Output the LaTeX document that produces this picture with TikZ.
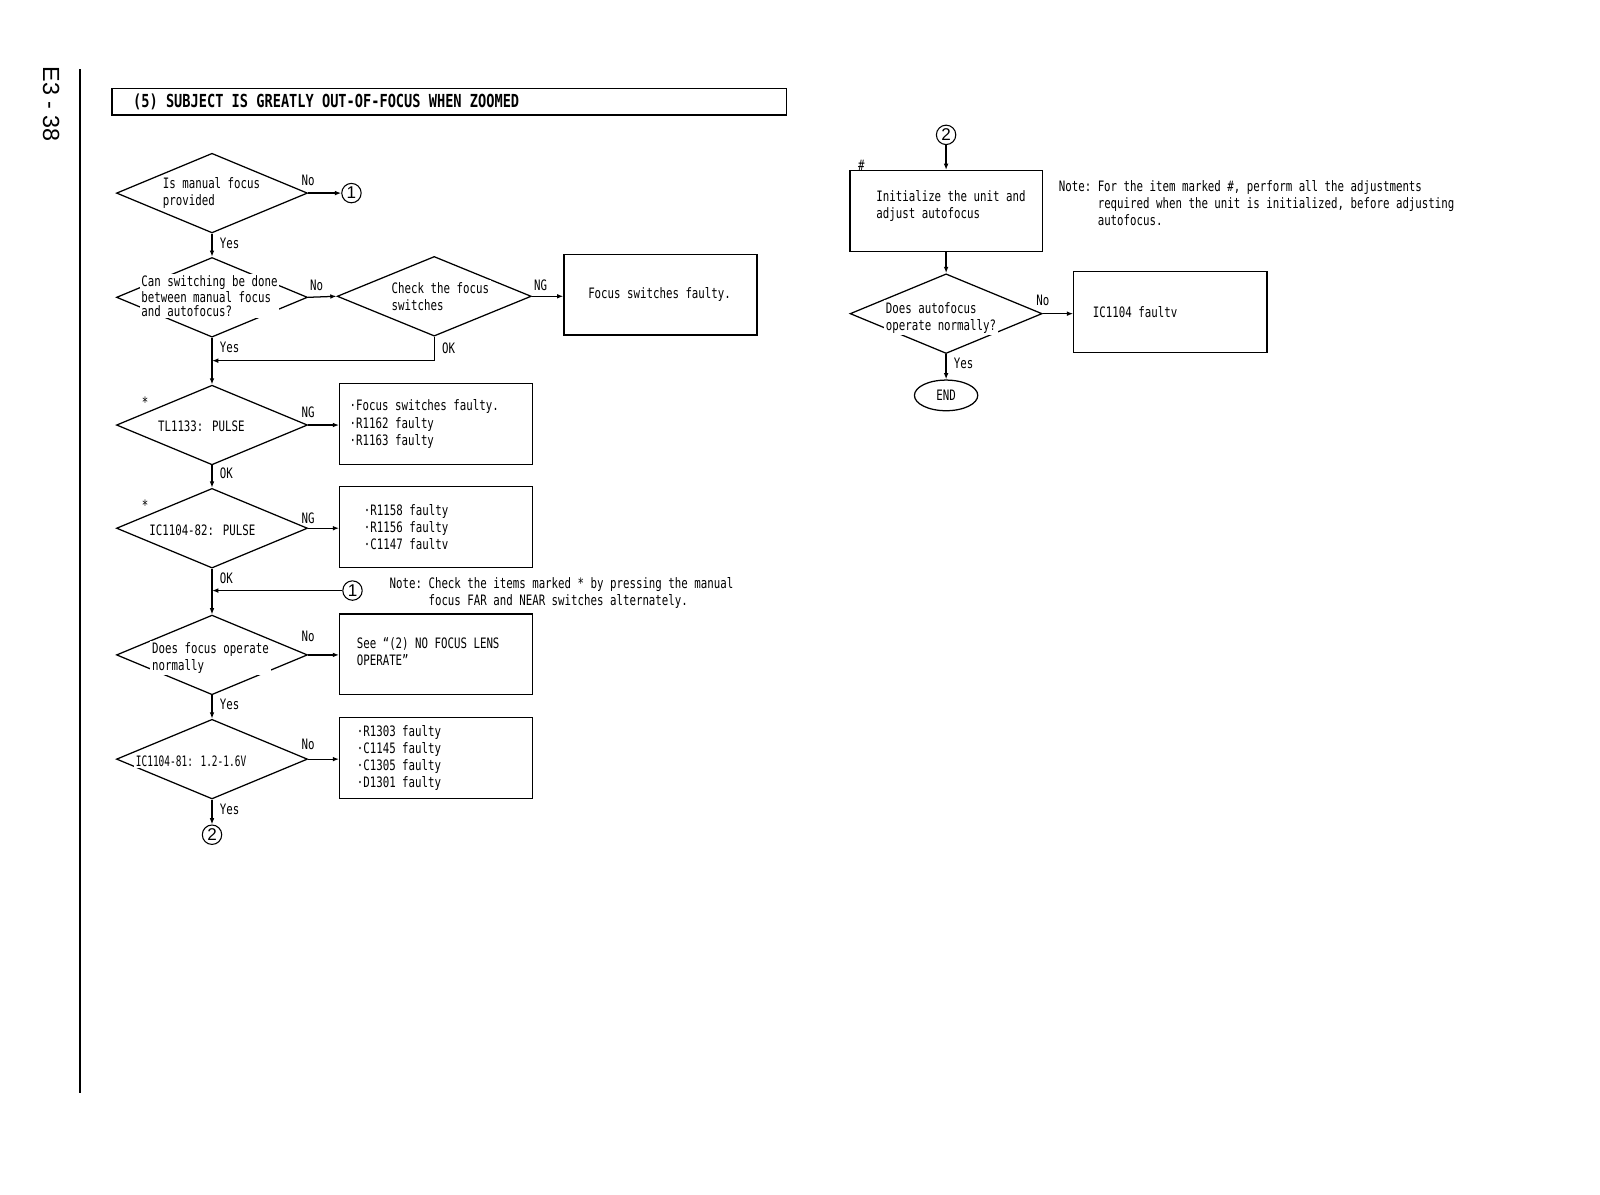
\documentclass[tikz,border=0pt]{standalone}
\usepackage{fontspec}
\setmainfont{Liberation Sans}
\newfontfamily\flowfont[FakeStretch=0.75]{DejaVu Sans Mono}
\newfontfamily\titlefont[FakeStretch=0.76]{DejaVu Sans Mono}
\usetikzlibrary{shapes.geometric, arrows.meta, positioning}

\begin{document}
\begin{tikzpicture}[
  x=0.02cm, y=-0.02cm,
  every node/.style={font=\flowfont\fontsize{8}{9.5}\selectfont},
  decision/.style={draw, diamond, minimum width=3.74cm, minimum height=1.56cm, inner sep=0pt, line width=0.7pt},
  dtext/.style={fill=white, align=left, inner sep=1pt},
  box/.style={draw, rectangle, minimum width=3.78cm, minimum height=1.58cm, inner sep=0pt, line width=0.7pt},
  btext/.style={anchor=west, align=left, inner sep=0pt},
  conn/.style={circle, draw, inner sep=0pt, minimum size=0.38cm, line width=0.6pt, font=\fontsize{9.5}{10}\selectfont},
  lbl/.style={inner sep=1pt},
  arr/.style={-{Latex[length=3.5pt,width=2.6pt]}, line width=0.7pt}
]
\useasboundingbox (0,0) rectangle (1566,1169);

\draw[line width=1.1pt] (78,68) -- (78,1070);
\node[rotate=-90, font=\fontsize{13}{15}\selectfont] (page) at (50,102) {E3 - 38};

\node[draw, line width=0.9pt, anchor=north west, minimum width=13.2cm, minimum height=0.52cm, inner sep=0pt] (title) at (109,86) {};
\node[anchor=west, inner sep=0pt, font=\titlefont\bfseries\fontsize{10}{11}\selectfont] at ([xshift=0.42cm]title.west) {(5) SUBJECT IS GREATLY OUT-OF-FOCUS WHEN ZOOMED};

\node[decision] (d1) at (207.5,189) {};
\node[dtext] at (207,189) {Is manual focus\\provided};
\node[conn] (c1a) at (344,189) {1};

\node[decision] (d2) at (207.5,291) {};
\node[dtext, font=\flowfont\fontsize{8}{7.6}\selectfont] at (205,290) {Can switching be done\\between manual focus\\and autofocus?};

\node[decision, minimum width=3.8cm] (d3) at (425,290) {};
\node[dtext] at (431,290) {Check the focus\\switches};
\node[box] (b3) at (646.5,288.5) {};
\node[btext] at ([xshift=0.48cm]b3.west) {Focus switches faulty.};

\node[decision] (d4) at (207.5,416) {};
\node[dtext] at (197,417) {TL1133: PULSE};
\node[lbl] at (142,394) {*};
\node[box] (b4) at (427,415) {};
\node[btext] at ([xshift=0.2cm]b4.west) {·Focus switches faulty.\\·R1162 faulty\\·R1163 faulty};

\node[decision] (d5) at (207.5,517) {};
\node[dtext] at (198,519) {IC1104-82: PULSE};
\node[lbl] at (142,494) {*};
\node[box] (b5) at (427,516) {};
\node[btext] at ([xshift=0.48cm]b5.west) {·R1158 faulty\\·R1156 faulty\\·C1147 faultv};

\coordinate (j1) at (207.5,578);
\node[conn] (c1b) at (345,578) {1};
\node[anchor=base west, inner sep=0pt] (note1) at (381,576) {\begin{tabular}[t]{@{}l@{\ }l@{}}Note:&Check the items marked * by pressing the manual\\&focus FAR and NEAR switches alternately.\end{tabular}};

\node[decision] (d6) at (207.5,641) {};
\node[dtext] at (206,644) {Does focus operate\\normally};
\node[box] (b6) at (427,640.5) {};
\node[btext] at ([xshift=0.34cm,yshift=0.06cm]b6.west) {See “(2) NO FOCUS LENS\\OPERATE”};

\node[decision] (d7) at (207.5,743) {};
\node[dtext] at (187,745) {\scalebox{0.88}[1]{IC1104-81: 1.2-1.6V}};
\node[box] (b7) at (427,742) {};
\node[btext] at ([xshift=0.34cm]b7.west) {·R1303 faulty\\·C1145 faulty\\·C1305 faulty\\·D1301 faulty};
\node[conn] (c2a) at (207.5,817) {2};

\node[conn] (c2b) at (926,132) {2};
\node[box, minimum width=3.76cm] (b8) at (926,206.5) {};
\node[lbl] at (843,162) {\#};
\node[btext] at ([xshift=0.52cm,yshift=0.1cm]b8.west) {Initialize the unit and\\adjust autofocus};
\node[anchor=base west, inner sep=0pt] (note2) at (1036,187) {\begin{tabular}[t]{@{}l@{\ }l@{}}Note:&For the item marked \#, perform all the adjustments\\&required when the unit is initialized, before adjusting\\&autofocus.\end{tabular}};

\node[decision, minimum width=3.76cm] (d8) at (926,307) {};
\node[dtext] at (921,311) {Does autofocus\\operate normally?};
\node[box] (b9) at (1145.5,305.5) {};
\node[btext] at ([xshift=0.38cm]b9.west) {IC1104 faultv};
\node[draw, ellipse, minimum width=1.24cm, minimum height=0.6cm, inner sep=0pt, line width=0.7pt] (end) at (926,387) {END};

\draw[arr] (d1.east) -- node[lbl, pos=0, above=3pt] {No} (c1a);
\draw[arr] (d1.south) -- node[lbl, pos=0.4, right=3pt] {Yes} (d2.north);
\draw[arr] (d2.east) -- node[lbl, pos=0.3, above=2pt] {No} (d3.west);
\draw[arr] (d3.east) -- node[lbl, pos=0.28, above=2pt] {NG} (d3.east -| b3.west);
\draw[arr] (d3.south) |- node[lbl, pos=0.25, right=3pt] {OK} (d2.south |- 0,353);
\draw[arr] (d2.south) -- node[lbl, pos=0.2, right=3pt] {Yes} (d4.north);
\draw[arr] (d4.east) -- node[lbl, pos=0, above=3pt] {NG} (d4.east -| b4.west);
\draw[arr] (d4.south) -- node[lbl, pos=0.35, right=3pt] {OK} (d5.north);
\draw[arr] (d5.east) -- node[lbl, pos=0, above=1pt] {NG} (d5.east -| b5.west);
\draw[arr] (d5.south) -- node[lbl, pos=0.2, right=3pt] {OK} (d6.north);
\draw[arr] (c1b) -- (j1);
\draw[arr] (d6.east) -- node[lbl, pos=0, above=6pt] {No} (d6.east -| b6.west);
\draw[arr] (d6.south) -- node[lbl, pos=0.4, right=3pt] {Yes} (d7.north);
\draw[arr] (d7.east) -- node[lbl, pos=0, above=4pt] {No} (d7.east -| b7.west);
\draw[arr] (d7.south) -- node[lbl, pos=0.4, right=3pt] {Yes} (c2a);
\draw[arr] (c2b) -- (b8.north);
\draw[arr] (b8.south) -- (d8.north);
\draw[arr] (d8.east) -- node[lbl, pos=0, above=3pt] {No} (d8.east -| b9.west);
\draw[arr] (d8.south) -- node[lbl, pos=0.35, right=3pt] {Yes} (end);
\end{tikzpicture}
\end{document}
